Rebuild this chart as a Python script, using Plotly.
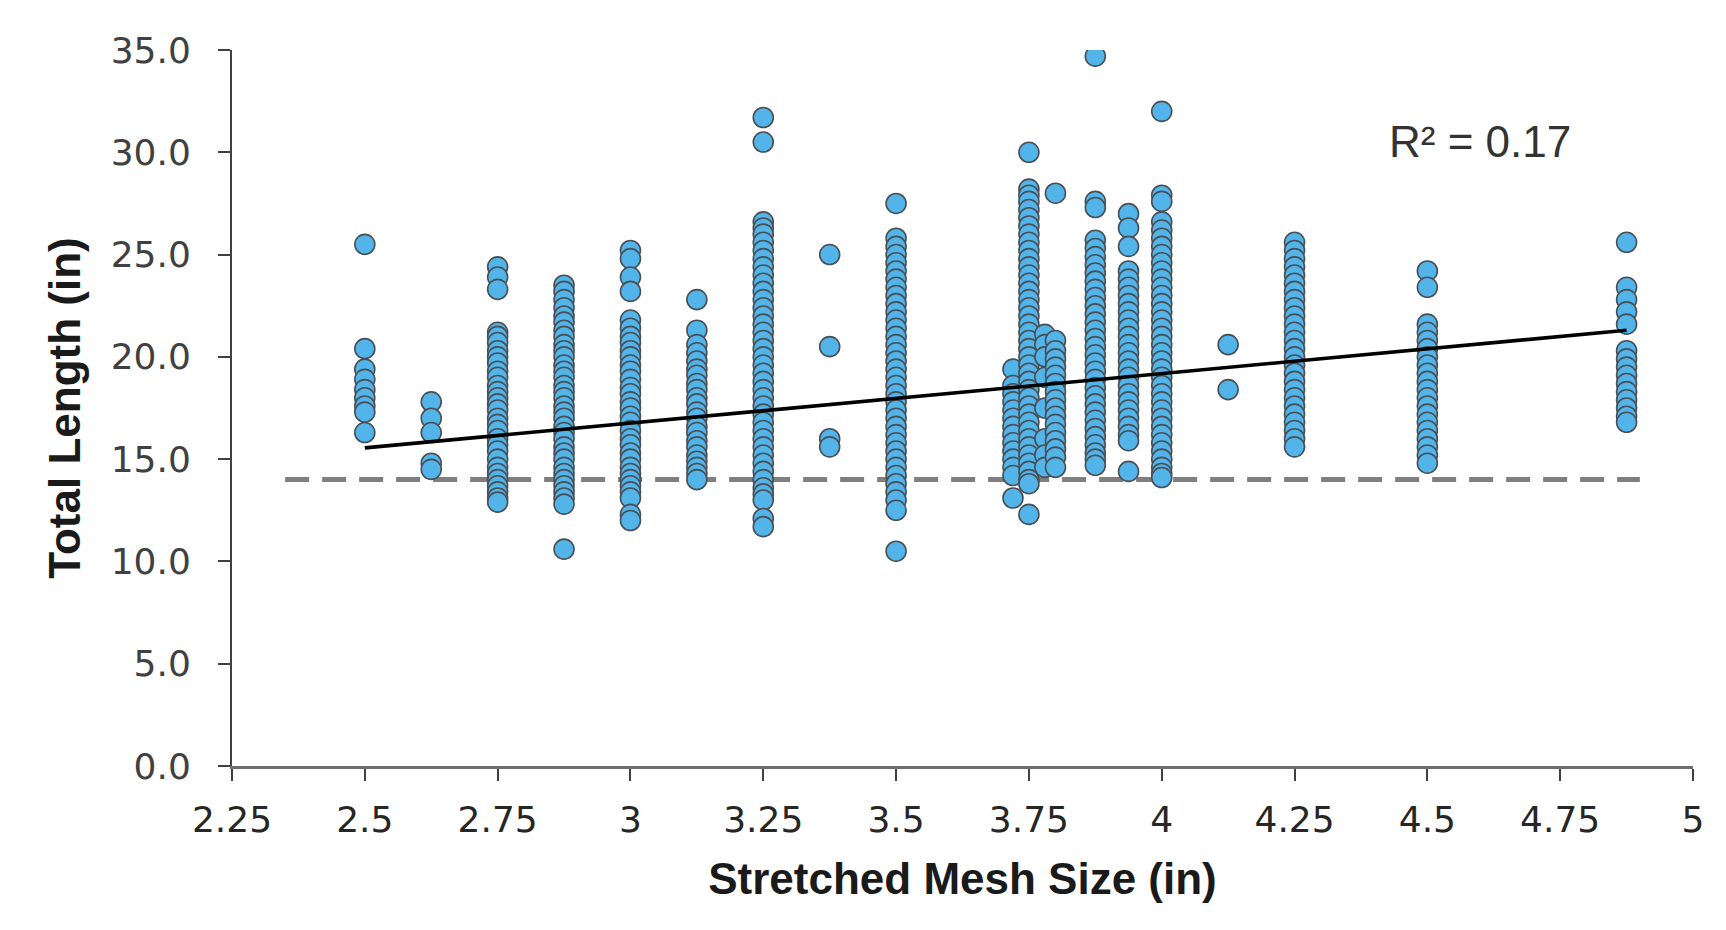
import plotly.graph_objects as go

# Stretched mesh size columns (in) and total lengths (in)
mesh_sizes = [2.5, 2.625, 2.75, 2.875, 3.0, 3.125, 3.25, 3.375, 3.5, 3.72, 3.75,
              3.78, 3.8, 3.875, 3.9375, 4.0, 4.125, 4.25, 4.5, 4.875]

tl_2500 = [25.5, 20.4, 19.4, 18.9, 18.4, 18.0, 17.6, 17.3, 16.3]
tl_2625 = [17.8, 17.0, 16.3, 14.8, 14.5]
tl_2750 = [24.4, 23.9, 23.3, 21.2, 21.0, 20.7, 20.3, 20.0, 19.7, 19.3, 19.0, 18.6,
           18.3, 18.0, 17.7, 17.4, 17.0, 16.7, 16.4, 16.0, 15.7, 15.4, 15.0, 14.6,
           14.3, 14.0, 13.7, 13.4, 13.1, 12.9]
tl_2875 = [23.5, 23.2, 22.8, 22.4, 22.0, 21.7, 21.3, 21.0, 20.6, 20.3, 20.0, 19.6,
           19.3, 19.0, 18.6, 18.3, 18.0, 17.6, 17.3, 17.0, 16.6, 16.3, 16.0, 15.6,
           15.3, 15.0, 14.6, 14.3, 14.0, 13.7, 13.4, 13.1, 12.8, 10.6]
tl_3000 = [25.2, 24.8, 23.9, 23.2, 21.8, 21.4, 21.0, 20.7, 20.3, 20.0, 19.6, 19.3,
           18.9, 18.5, 18.2, 17.8, 17.5, 17.1, 16.8, 16.4, 16.0, 15.7, 15.3, 15.0,
           14.6, 14.3, 14.0, 13.7, 13.4, 13.1, 12.3, 12.0]
tl_3125 = [22.8, 21.3, 20.6, 20.2, 19.8, 19.4, 19.1, 18.7, 18.4, 18.0, 17.7, 17.3,
           17.0, 16.6, 16.3, 15.9, 15.6, 15.2, 14.9, 14.6, 14.3, 14.0]
tl_3250 = [31.7, 30.5, 26.6, 26.3, 26.0, 25.6, 25.2, 24.8, 24.4, 24.0, 23.6, 23.2,
           22.8, 22.4, 22.0, 21.6, 21.2, 20.8, 20.4, 20.0, 19.6, 19.2, 18.8, 18.4,
           18.0, 17.6, 17.2, 16.8, 16.4, 16.0, 15.6, 15.2, 14.8, 14.4, 14.0, 13.6,
           13.3, 13.0, 12.1, 11.7]
tl_3375 = [25.0, 20.5, 16.0, 15.6]
tl_3500 = [27.5, 25.8, 25.4, 25.0, 24.6, 24.2, 23.8, 23.4, 23.0, 22.6, 22.2, 21.8,
           21.4, 21.0, 20.6, 20.2, 19.8, 19.4, 19.0, 18.6, 18.2, 17.8, 17.4, 17.0,
           16.6, 16.2, 15.8, 15.4, 15.0, 14.6, 14.2, 13.8, 13.4, 13.0, 12.5, 10.5]
tl_3720 = [19.4, 18.6, 18.2, 17.8, 17.4, 17.0, 16.6, 16.2, 15.8, 15.4, 15.0, 14.6,
           14.2, 13.1]
tl_3750 = [30.0, 28.2, 27.9, 27.6, 27.2, 26.8, 26.4, 26.0, 25.6, 25.2, 24.8, 24.4,
           24.0, 23.6, 23.2, 22.8, 22.4, 22.0, 21.6, 21.2, 20.8, 20.4, 20.0, 19.6,
           19.2, 18.8, 18.4, 18.0, 17.6, 17.2, 16.8, 16.4, 16.0, 15.6, 15.2, 14.8,
           14.4, 14.0, 13.8, 12.3]
tl_3780 = [21.1, 20.6, 20.0, 19.0, 17.5, 16.0, 15.2, 14.6]
tl_3800 = [28.0, 20.8, 20.3, 19.9, 19.5, 19.1, 18.7, 18.3, 17.9, 17.5, 17.1, 16.7,
           16.3, 15.9, 15.5, 15.1, 14.6]
tl_3875 = [34.7, 27.6, 27.3, 25.7, 25.3, 24.9, 24.5, 24.1, 23.7, 23.3, 22.9, 22.5,
           22.1, 21.7, 21.3, 20.9, 20.5, 20.1, 19.7, 19.3, 18.9, 18.5, 18.1, 17.7,
           17.3, 16.9, 16.5, 16.1, 15.7, 15.3, 15.0, 14.7]
tl_3938 = [27.0, 26.3, 25.4, 24.2, 23.8, 23.4, 23.0, 22.6, 22.2, 21.8, 21.4, 21.0,
           20.6, 20.2, 19.8, 19.4, 19.0, 18.6, 18.2, 17.8, 17.4, 17.0, 16.6, 16.2,
           15.9, 14.4]
tl_4000 = [32.0, 27.9, 27.6, 26.6, 26.2, 25.8, 25.4, 25.0, 24.6, 24.2, 23.8, 23.4,
           23.0, 22.6, 22.2, 21.8, 21.4, 21.0, 20.6, 20.2, 19.8, 19.4, 19.0, 18.6,
           18.2, 17.8, 17.4, 17.0, 16.6, 16.2, 15.8, 15.4, 15.0, 14.6, 14.3, 14.1]
tl_4125 = [20.6, 18.4]
tl_4250 = [25.6, 25.2, 24.8, 24.4, 24.0, 23.6, 23.2, 22.8, 22.4, 22.0, 21.6, 21.2,
           20.8, 20.4, 20.0, 19.6, 19.2, 18.8, 18.4, 18.0, 17.6, 17.2, 16.8, 16.4,
           16.0, 15.6]
tl_4500 = [24.2, 23.4, 21.6, 21.2, 20.8, 20.4, 20.0, 19.6, 19.2, 18.8, 18.4, 18.0,
           17.6, 17.2, 16.8, 16.4, 16.0, 15.6, 15.2, 14.8]
tl_4875 = [25.6, 23.4, 22.8, 22.2, 21.6, 20.3, 19.9, 19.5, 19.1, 18.7, 18.3, 17.9,
           17.5, 17.1, 16.8]

length_columns = [tl_2500, tl_2625, tl_2750, tl_2875, tl_3000, tl_3125, tl_3250,
                  tl_3375, tl_3500, tl_3720, tl_3750, tl_3780, tl_3800, tl_3875,
                  tl_3938, tl_4000, tl_4125, tl_4250, tl_4500, tl_4875]

# Linear trend line end points and minimum-length reference line
trend_x = [2.5, 4.875]
trend_y = [15.55, 21.3]
min_line_x = [2.35, 4.9]
min_line_y = [14.0, 14.0]

x_ticks = [2.25, 2.5, 2.75, 3, 3.25, 3.5, 3.75, 4, 4.25, 4.5, 4.75, 5]
x_tick_labels = ["2.25", "2.5", "2.75", "3", "3.25", "3.5", "3.75", "4", "4.25",
                 "4.5", "4.75", "5"]
y_ticks = [0, 5, 10, 15, 20, 25, 30, 35]
y_tick_labels = ["0.0", "5.0", "10.0", "15.0", "20.0", "25.0", "30.0", "35.0"]

pts_x, pts_y = [], []
for m, col in zip(mesh_sizes, length_columns):
    pts_x.extend([m] * len(col))
    pts_y.extend(col)

FONT = "Liberation Sans, Arial, sans-serif"
TICKFONT = "DejaVu Sans, Liberation Sans, sans-serif"

fig = go.Figure()
fig.add_trace(go.Scatter(
    x=min_line_x, y=min_line_y, mode="lines",
    line=dict(color="#7f7f7f", width=5, dash="24px,13px"),
    hoverinfo="skip", showlegend=False))
fig.add_trace(go.Scatter(
    x=pts_x, y=pts_y, mode="markers",
    marker=dict(size=20, color="#52b4e8", line=dict(color="#4a4f55", width=1.6)),
    showlegend=False))
fig.add_trace(go.Scatter(
    x=trend_x, y=trend_y, mode="lines",
    line=dict(color="black", width=3.6),
    hoverinfo="skip", showlegend=False))

fig.add_annotation(x=4.6, y=30.55, xref="x", yref="y", text="R² = 0.17",
                   showarrow=False, font=dict(family=FONT, size=44, color="#333333"))

fig.update_layout(
    width=1726, height=930,
    margin=dict(l=224, r=41, t=42, b=172),
    paper_bgcolor="white", plot_bgcolor="white",
    showlegend=False,
)
fig.update_xaxes(
    range=[2.25, 5], tickmode="array", tickvals=x_ticks, ticktext=x_tick_labels,
    showgrid=False, zeroline=False,
    showline=True, linecolor="#6f6f6f", linewidth=3,
    ticks="outside", ticklen=12, tickwidth=2, tickcolor="#404040",
    ticklabelstandoff=8,
    tickfont=dict(family=TICKFONT, size=36, color="#262626"),
    title=dict(text="<b>Stretched Mesh Size (in)</b>", standoff=24,
               font=dict(family=FONT, size=44, color="#1a1a1a")),
)
fig.update_yaxes(
    range=[0, 35], tickmode="array", tickvals=y_ticks, ticktext=y_tick_labels,
    showgrid=False, zeroline=False,
    showline=True, linecolor="#404040", linewidth=2,
    ticks="outside", ticklen=12, tickwidth=2, tickcolor="#404040",
    ticklabelstandoff=20,
    tickfont=dict(family=TICKFONT, size=36, color="#404040"),
    title=dict(text="<b>Total Length (in)</b>", standoff=16,
               font=dict(family=FONT, size=44, color="#1a1a1a")),
)

fig.write_html("out.html")
